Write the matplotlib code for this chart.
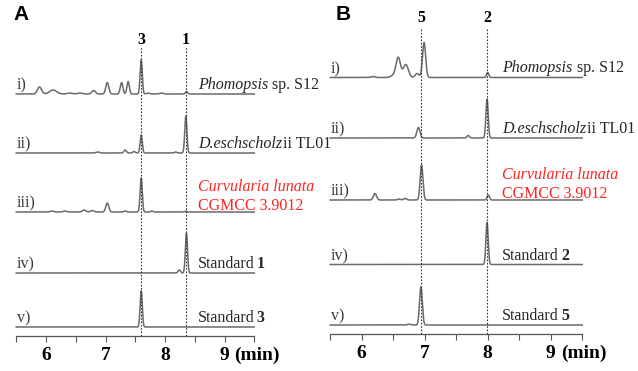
import numpy as np
import matplotlib
matplotlib.use('Agg')
import matplotlib.pyplot as plt

plt.rcParams.update({
    'font.family': 'Liberation Serif',
})

# ----------------------------------------------------
# Peak tables (time in min, height, width sigma)
# ----------------------------------------------------
# Panel A
a_i_t = [5.89, 6.12, 6.40, 6.57, 6.80, 7.03, 7.27, 7.38, 7.60, 7.72, 7.94, 8.36]
a_i_h = [7, 4, 1, 1, 3.5, 11.5, 11.5, 12.5, 34, 0.8, 1, 2.5]
a_i_w = [0.035, 0.06, 0.04, 0.04, 0.03, 0.025, 0.022, 0.02, 0.018, 0.03, 0.03, 0.018]

a_ii_t = [6.87, 7.33, 7.48, 7.60, 8.18, 8.35]
a_ii_h = [1, 3, 1.5, 18, 1, 37]
a_ii_w = [0.03, 0.02, 0.02, 0.018, 0.02, 0.018]

a_iii_t = [6.10, 6.32, 6.64, 6.78, 7.03, 7.33, 7.60, 7.78, 8.35]
a_iii_h = [1, 1, 2, 1.5, 9, 1, 34, 1, 1]
a_iii_w = [0.03, 0.03, 0.03, 0.03, 0.025, 0.02, 0.018, 0.02, 0.015]

a_iv_t = [8.24, 8.36]
a_iv_h = [3, 40]
a_iv_w = [0.02, 0.018]

a_v_t = [7.60]
a_v_h = [36]
a_v_w = [0.018]

# Panel B
b_i_t = [6.18, 6.50, 6.58, 6.70, 6.88, 6.99, 8.00]
b_i_h = [1, 2, 20, 13, 4, 35, 5]
b_i_w = [0.03, 0.04, 0.035, 0.04, 0.03, 0.025, 0.018]

b_ii_t = [6.90, 7.69, 7.99]
b_ii_h = [10.5, 2.5, 39]
b_ii_w = [0.025, 0.02, 0.018]

b_iii_t = [6.21, 6.59, 6.69, 6.95, 8.01]
b_iii_h = [6.5, 1, 1.5, 35, 5]
b_iii_w = [0.025, 0.02, 0.025, 0.022, 0.018]

b_iv_t = [7.99]
b_iv_h = [42]
b_iv_w = [0.018]

b_v_t = [6.75, 6.94]
b_v_h = [0.8, 38]
b_v_w = [0.03, 0.022]

row_names = ['i)', 'ii)', 'iii)', 'iv)', 'v)']
# each label is a list of (text, style, gap before in points) pieces
labels_A = [[('Phomopsis', 'it', 0), ('sp. S12', 'rm', 3)],
            [('D.eschscholz', 'it', 0), ('ii TL01', 'rm', 0.5)],
            [('Curvularia lunata', 'it', 0)],
            [('Standard', 'rm', 0), ('1', 'bf', 1.5)],
            [('Standard', 'rm', 0), ('3', 'bf', 1.5)]]
labels_B = [[('Phomopsis', 'it', 0), ('sp. S12', 'rm', 3)],
            [('D.eschscholz', 'it', 0), ('ii TL01', 'rm', 0.5)],
            [('Curvularia lunata', 'it', 0)],
            [('Standard', 'rm', 0), ('2', 'bf', 1.5)],
            [('Standard', 'rm', 0), ('5', 'bf', 1.5)]]
strain_code = 'CGMCC 3.9012'

marks_A = {'3': 7.60, '1': 8.35}
marks_B = {'5': 6.94, '2': 7.99}

ticks = [6, 7, 8, 9]

TRACE = '#6a6a6a'
TEXT = '#262626'
RED = '#ff2222'
STYLE = {'it': dict(style='italic'), 'rm': dict(), 'bf': dict(fontweight='bold')}


def trace(t, times, heights, widths):
    y = np.zeros_like(t)
    for c, h, w in zip(times, heights, widths):
        y += h * np.exp(-0.5 * ((t - c) / w) ** 2)
    return y


def rich(ax, x, y, pieces, color):
    s, st, _ = pieces[0]
    prev = ax.text(x, y, s, fontsize=11.5, color=color, ha='left', va='center',
                   **STYLE[st])
    for s, st, gap in pieces[1:]:
        prev = ax.annotate(s, xy=(1, 0), xycoords=prev, xytext=(gap, 0),
                           textcoords='offset points', fontsize=11.5,
                           color=color, ha='left', va='bottom', **STYLE[st])


def panel(ax, xlim, peaks, baselines, axis_y, labels, marks, mark_y, dash_top,
          text_x, letter, letter_x):
    ax.set_xlim(*xlim)
    ax.set_ylim(0, 371)
    ax.patch.set_visible(False)
    for s in ['top', 'left', 'right']:
        ax.spines[s].set_visible(False)
    ax.spines['bottom'].set_position(('data', axis_y))
    ax.spines['bottom'].set_bounds(5.5, 9.5)
    ax.spines['bottom'].set_color('#555555')
    ax.spines['bottom'].set_linewidth(0.9)
    ax.set_yticks([])
    ax.set_xticks(ticks)
    ax.set_xticklabels([str(v) for v in ticks], fontweight='bold', fontsize=14)
    ax.set_xticks(np.arange(5.5, 9.6, 0.5), minor=True)
    ax.tick_params(axis='x', which='both', direction='out', length=4,
                   width=0.8, color='#555555', pad=4)
    ax.text(9.16, axis_y - 19.5, '(min)', fontsize=14, fontweight='bold',
            ha='left', va='center')

    t = np.linspace(5.5, 9.5, 3000)
    for (times, heights, widths), base in zip(peaks, baselines):
        ax.plot(t, base + trace(t, times, heights, widths), color=TRACE, lw=1.1)

    for name, base in zip(row_names, baselines):
        ax.text(5.51, base + 0.5, name, fontsize=11.5, color='#3a3a3a',
                ha='left', va='bottom')

    for k, (lab, base) in enumerate(zip(labels, baselines)):
        if k == 2:
            rich(ax, text_x, base + 25, lab, RED)
            rich(ax, text_x, base + 6.5, [(strain_code, 'rm', 0)], RED)
        else:
            rich(ax, text_x, base + 9, lab, TEXT)

    for num, x in marks.items():
        ax.plot([x, x], [axis_y, dash_top], ls=(0, (1.5, 1.5)), color='#333333',
                lw=0.8)
        ax.text(x, mark_y, num, fontsize=11.5, fontweight='bold', ha='center',
                va='center')

    ax.text(letter_x, 356, letter, family='Liberation Sans',
            fontweight='bold', fontsize=15, ha='left', va='center')


fig = plt.figure(figsize=(6.38, 3.71), dpi=100)

axA = fig.add_axes([0, 0, 319 / 638, 1])
peaks_A = [(a_i_t, a_i_h, a_i_w), (a_ii_t, a_ii_h, a_ii_w),
           (a_iii_t, a_iii_h, a_iii_w), (a_iv_t, a_iv_h, a_iv_w),
           (a_v_t, a_v_h, a_v_w)]
panel(axA, (5.227, 10.588), peaks_A, [277, 218, 159, 98, 44], 35,
      labels_A, marks_A, 331, 324, 8.55, 'A', 5.46)

axB = fig.add_axes([319 / 638, 0, 319 / 638, 1])
peaks_B = [(b_i_t, b_i_h, b_i_w), (b_ii_t, b_ii_h, b_ii_w),
           (b_iii_t, b_iii_h, b_iii_w), (b_iv_t, b_iv_h, b_iv_w),
           (b_v_t, b_v_h, b_v_w)]
panel(axB, (5.322, 10.386), peaks_B, [293.5, 233, 171, 106.5, 46], 37.5,
      labels_B, marks_B, 353, 343, 8.23, 'B', 5.59)

fig.savefig('out.png', dpi=100)
